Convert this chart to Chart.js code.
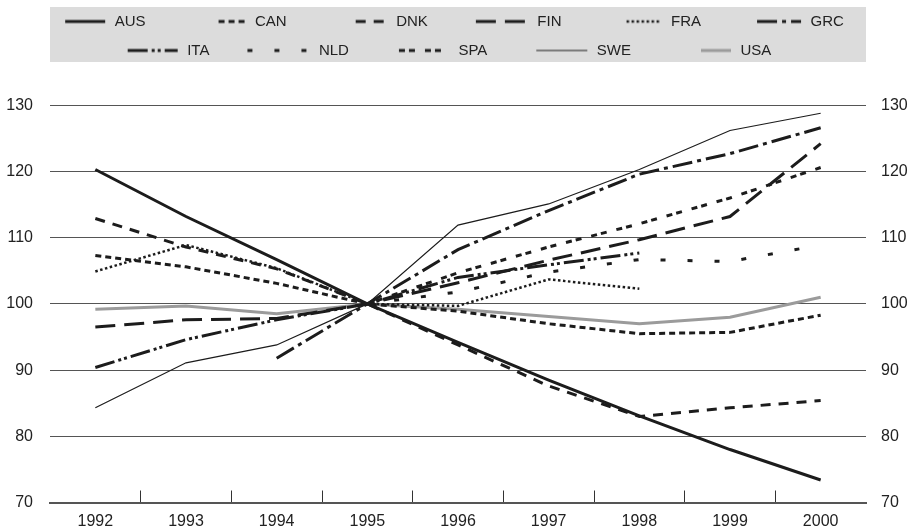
<!DOCTYPE html>
<html>
<head>
<meta charset="utf-8">
<script src="https://cdn.jsdelivr.net/npm/chart.js@4/dist/chart.umd.min.js"></script>
<style>
  html, body { margin: 0; padding: 0; background: #fff; }
</style>
</head>
<body>
<canvas id="chart" width="911" height="532"></canvas>
<script>
// index values, 1995 = 100
const years = ['1992', '1993', '1994', '1995', '1996', '1997', '1998', '1999', '2000'];
const aus = [120.3, 113.2, 106.7, 100, 94.2, 88.5, 83.1, 78.0, 73.4];
const can = [107.3, 105.6, 103.1, 100, 98.9, 97.0, 95.5, 95.7, 98.3];
const dnk = [112.9, 108.6, 105.3, 100, 93.8, 87.6, 83.0, 84.3, 85.4];
const fin = [96.5, 97.6, 97.8, 100, 103.2, 106.6, 109.7, 113.2, 124.2];
const fra = [104.9, 108.9, 105.4, 100, 99.7, 103.7, 102.3, null, null];
const grc = [null, null, 91.8, 100, 108.2, 114.1, 119.6, 122.7, 126.6];
const ita = [90.4, 94.6, 97.6, 100, 104.0, 105.9, 107.7, null, null];
const nld = [null, null, null, 100, 101.8, 104.8, 106.7, 106.4, 108.9];
const spa = [null, null, null, 100, 104.7, 108.6, 112.1, 116.0, 120.6];
const swe = [84.3, 91.1, 93.8, 100, 111.9, 115.1, 120.3, 126.2, 128.8];
const usa = [99.2, 99.7, 98.5, 100, 99.2, 98.1, 97.0, 98.0, 101.0];

const codes = ['AUS', 'CAN', 'DNK', 'FIN', 'FRA', 'GRC', 'ITA', 'NLD', 'SPA', 'SWE', 'USA'];
const values = [aus, can, dnk, fin, fra, grc, ita, nld, spa, swe, usa];

// line styles
const ink = '#1c1c1c';
const colors = [ink, ink, ink, ink, ink, ink, ink, ink, ink, ink, '#9b9b9b'];
const widths = [3, 3, 3, 3, 2.5, 3, 3, 3, 3, 1.2, 3];
const dashes = [[], [6, 4], [10, 8], [20, 9], [2.5, 2.5], [20, 5, 4, 5], [20, 4, 3, 3, 3, 4], [5, 22], [6, 4, 6, 10], [], []];
const keyLengths = [40, 27, 31, 52, 35, 44, 50, 62, 50, 51, 30];

const font = 'Liberation Sans, Arial, sans-serif';
const keyBox = 88;

// little picture of each line style for the legend
function legendKey(i) {
  const c = document.createElement('canvas');
  c.width = keyBox * 2;
  c.height = 10;
  const g = c.getContext('2d');
  g.strokeStyle = colors[i];
  g.lineWidth = widths[i];
  g.setLineDash(dashes[i]);
  g.beginPath();
  g.moveTo(130 - keyLengths[i], 5);
  g.lineTo(130, 5);
  g.stroke();
  return c;
}
const keys = codes.map((c, i) => legendKey(i));

const legendBand = {
  id: 'legendBand',
  beforeDraw(chart) {
    const {ctx, chartArea, legend} = chart;
    ctx.save();
    ctx.fillStyle = '#dcdcdc';
    ctx.fillRect(chartArea.left, legend.top + 7, chartArea.right - chartArea.left, legend.bottom - legend.top - 13);
    ctx.restore();
  }
};

const ctx = document.getElementById('chart');
new Chart(ctx, {
  type: 'line',
  data: {
    labels: years,
    datasets: codes.map((code, i) => ({
      label: code,
      data: values[i],
      borderColor: colors[i],
      borderWidth: widths[i],
      borderDash: dashes[i],
      pointRadius: 0,
      fill: false,
      tension: 0
    }))
  },
  options: {
    responsive: false,
    animation: false,
    events: [],
    layout: { padding: { left: -48, top: 0, right: 0, bottom: 0 } },
    plugins: {
      tooltip: { enabled: false },
      // empty title below the legend, only used as a spacer
      title: { display: true, text: '', weight: 0, font: { size: 10 }, padding: { top: 0, bottom: 25.3 } },
      legend: {
        position: 'top',
        labels: {
          usePointStyle: true,
          pointStyleWidth: keyBox,
          boxHeight: 8,
          padding: 14,
          color: '#222',
          font: { family: font, size: 15 },
          generateLabels(chart) {
            return Chart.defaults.plugins.legend.labels.generateLabels(chart)
              .map((item, i) => Object.assign(item, { pointStyle: keys[i] }));
          }
        }
      }
    },
    scales: {
      x: {
        offset: true,
        grid: {
          offset: true,
          drawOnChartArea: false,
          tickLength: -12,
          lineWidth: 1,
          color: c => (c.index > 0 && c.index < years.length) ? '#333' : 'rgba(0,0,0,0)'
        },
        border: { display: true, color: '#555', width: 2 },
        ticks: { padding: 21, color: '#222', font: { family: font, size: 16 } },
        afterFit(s) { s.height = 29.5; }
      },
      y: {
        position: 'left',
        min: 70,
        max: 130,
        ticks: { stepSize: 10, padding: 17, color: '#222', font: { family: font, size: 16 } },
        grid: { color: '#555', lineWidth: 1, drawTicks: false },
        border: { display: false },
        afterFit(s) { s.width = 98; }
      },
      y2: {
        position: 'right',
        min: 70,
        max: 130,
        ticks: { stepSize: 10, padding: 15, color: '#222', font: { family: font, size: 16 } },
        grid: { display: false, drawTicks: false },
        border: { display: false },
        afterFit(s) { s.width = 45; }
      }
    }
  },
  plugins: [legendBand]
});
</script>
</body>
</html>
